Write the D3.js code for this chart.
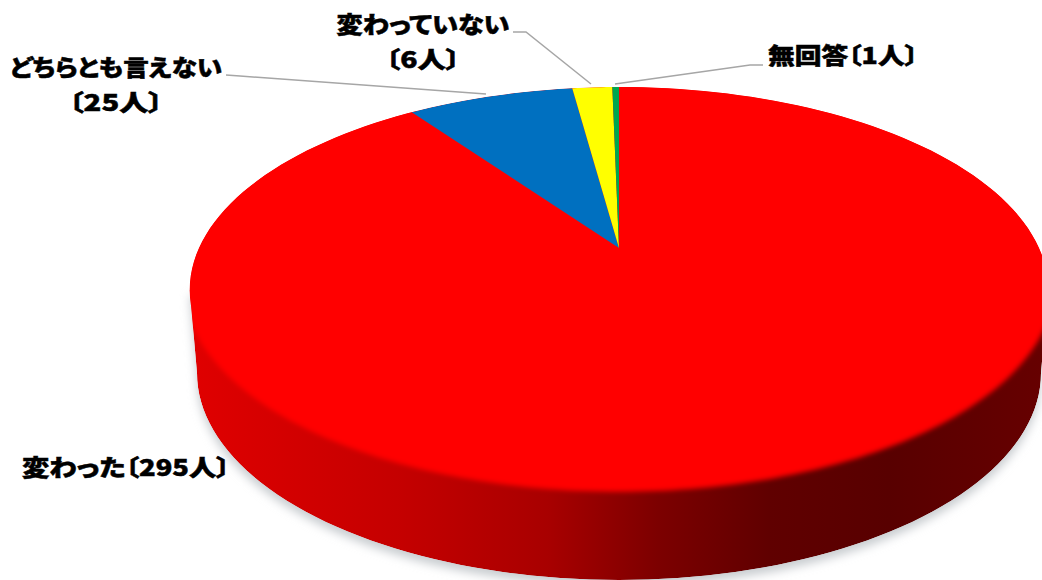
<!DOCTYPE html>
<html>
<head>
<meta charset="utf-8">
<script src="https://cdn.jsdelivr.net/npm/d3@7"></script>
<style>
html, body { margin: 0; padding: 0; background: #fff; overflow: hidden; }
text {
	font-family: "Noto Sans CJK JP", sans-serif;
	font-weight: 900;
	font-size: 23px;
	font-feature-settings: "palt";
	fill: #000;
	stroke: #000;
	stroke-width: 0.5px;
}
</style>
</head>
<body>
<div id="chart"></div>
<script>
// chart values
var categories = ["変わった", "どちらとも言えない", "変わっていない", "無回答"];
var counts = [295, 25, 6, 1];
var sliceColors = ["#ff0000", "#0070c0", "#ffff00", "#00a650"];
var sideStops = [[0, "#e00000"], [0.25, "#c40000"], [0.42, "#a80000"], [0.55, "#7c0000"], [0.68, "#600000"], [0.82, "#580000"], [1, "#660000"]];

var width = 1042, height = 580;

// perspective of the disc: apex at (cx, cy), circle seen from above
var cx = 619, cy = 248, persp = -0.2069, scaleU = 420, scaleV = 143;
var depth = {cy: 373, rx: 422, ry: 207}; // lower rim

function project(angle, r) {
	var u = Math.sin(angle) * r;
	var v = -Math.cos(angle) * r;
	var w = 1 + persp * v;
	return [cx + scaleU * u / w, (cy + scaleV * v) / w];
}

function slicePath(d, r) {
	var steps = Math.max(2, Math.ceil((d.endAngle - d.startAngle) * 60));
	var pts = [[cx, cy]];
	d3.range(steps + 1).forEach(function (i) {
		pts.push(project(d.startAngle + (d.endAngle - d.startAngle) * i / steps, r));
	});
	return d3.line()(pts) + "Z";
}

var topRim = d3.range(0, 361, 2).map(function (a) { return project(a * Math.PI / 180, 1); });
var lowRim = d3.range(0, 181, 2).map(function (a) {
	var t = a * Math.PI / 180;
	return [cx + depth.rx * Math.cos(t), depth.cy + depth.ry * Math.sin(t)];
});
var topMinX = d3.min(topRim, function (p) { return p[0]; });
var topMaxX = d3.max(topRim, function (p) { return p[0]; });
var sidePts = [[topMaxX, 290]].concat(lowRim, [[topMinX, 290]]);
var sidePath = d3.line()(sidePts) + "Z";
var topPath = d3.line()(topRim) + "Z";

var svg = d3.select("#chart").append("svg")
	.attr("width", width)
	.attr("height", height)
	.style("display", "block");

var defs = svg.append("defs");

defs.append("filter").attr("id", "shadowBlur")
	.attr("x", "-5%").attr("y", "-5%").attr("width", "110%").attr("height", "110%")
	.append("feGaussianBlur").attr("stdDeviation", 5);

defs.append("filter").attr("id", "edgeBlur")
	.attr("x", "-5%").attr("y", "-5%").attr("width", "110%").attr("height", "110%")
	.append("feGaussianBlur").attr("stdDeviation", 2.5);

defs.append("clipPath").attr("id", "discClip")
	.selectAll("path").data([topPath, sidePath]).enter().append("path").attr("d", function (d) { return d; });

var sideGrad = defs.append("linearGradient").attr("id", "sideGrad")
	.attr("gradientUnits", "userSpaceOnUse")
	.attr("x1", 190).attr("y1", 0).attr("x2", 1042).attr("y2", 0);
sideGrad.selectAll("stop").data(sideStops).enter().append("stop")
	.attr("offset", function (d) { return d[0]; })
	.attr("stop-color", function (d) { return d[1]; });

// soft shadow under the disc
svg.append("path")
	.attr("d", sidePath)
	.attr("transform", "translate(0,6)")
	.attr("fill", "#c9cdd0")
	.attr("filter", "url(#shadowBlur)");

var pie = d3.pie().sort(null).value(function (d) { return d; });
var arcs = pie(counts);

var disc = svg.append("g").attr("clip-path", "url(#discClip)");

disc.append("path").attr("d", sidePath).attr("fill", "url(#sideGrad)");

// the first slice wraps over the rim with a feathered edge
disc.append("path")
	.attr("d", slicePath(arcs[0], 1.012))
	.attr("transform", "translate(0,-5)")
	.attr("fill", sliceColors[0])
	.attr("filter", "url(#edgeBlur)");
disc.append("path")
	.attr("d", slicePath(arcs[0], 0.97))
	.attr("fill", sliceColors[0]);
disc.append("path")
	.attr("d", d3.line()(topRim.filter(function (p) { return p[1] < 290; })))
	.attr("fill", sliceColors[0]);

disc.selectAll("path.slice")
	.data(arcs.slice(1))
	.enter().append("path")
	.attr("class", "slice")
	.attr("d", function (d) { return slicePath(d, 1); })
	.attr("fill", function (d) { return sliceColors[d.index]; });

// leader lines
var leaders = [
	[[226, 75], [240, 76], [486, 94]],
	[[513, 32], [526, 32], [591, 84]],
	[[615, 84], [750, 65], [763, 65]]
];
svg.selectAll("path.leader")
	.data(leaders)
	.enter().append("path")
	.attr("class", "leader")
	.attr("d", d3.line())
	.attr("fill", "none")
	.attr("stroke", "#a6a6a6")
	.attr("stroke-width", 1.5);

// labels: lines, centre x, baseline y of first line, ink width per line
function countText(i) { return "〔" + counts[i] + "人〕"; }
var labels = [
	{lines: [categories[0] + countText(0)], x: 126, y: 476, w: [208]},
	{lines: [categories[1], countText(1)], x: 116, y: 76, w: [212, 94]},
	{lines: [categories[2], countText(2)], x: 423, y: 33, w: [173, 74]},
	{lines: [categories[3] + countText(3)], x: 843, y: 64, w: [150]}
];
labels.forEach(function (l) {
	l.lines.forEach(function (s, i) {
		svg.append("text")
			.attr("x", l.x)
			.attr("y", l.y + i * 35)
			.attr("text-anchor", "middle")
			.attr("textLength", l.w[i])
			.attr("lengthAdjust", "spacingAndGlyphs")
			.text(s);
	});
});
</script>
</body>
</html>
